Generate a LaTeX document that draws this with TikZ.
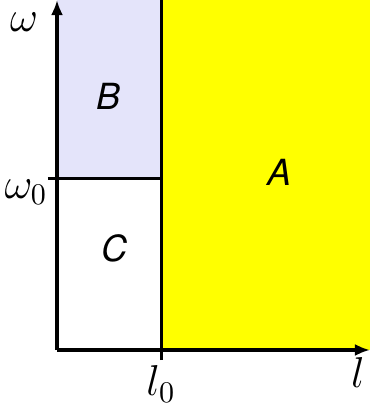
\documentclass[tikz,border=0pt]{standalone}
\usepackage{fontspec}
\usepackage{tikz}
\usetikzlibrary{arrows.meta,positioning}
\newfontfamily\regionfont{TeX Gyre Heros}
\definecolor{regBcol}{RGB}{228,228,250}
\definecolor{regAcol}{RGB}{255,255,0}

\begin{document}
\begin{tikzpicture}[
  x=0.3333pt,y=0.3333pt,
  axis/.style={line width=1.6pt,-{Latex[length=5pt,width=4pt]}},
  bound/.style={line width=1pt},
  reg/.style={font=\regionfont\itshape\large},
  lab/.style={font=\Large,inner sep=0pt}]

\useasboundingbox (-57,-57) rectangle (313,350);

% regions
\fill[regBcol] (0,172) rectangle (105,350);
\fill[regAcol] (105,0) rectangle (313,350);

% corner points
\coordinate (o) at (0,0);
\coordinate (ytop) at (0,350);
\coordinate (xend) at (313,0);
\coordinate (ltick) at (105,-10);
\coordinate (ltop) at (105,350);
\coordinate (wtick) at (-9,172);
\coordinate (wend) at (105,172);

% boundaries
\draw[bound] (ltick) -- (ltop);
\draw[bound] (wtick) -- (wend);

% axes
\draw[axis] (o) -- (ytop);
\draw[axis] (o) -- (xend);

% labels
\node[lab] (w) at (-33,328) {$\omega$};
\node[lab] (w0) at (-31,158) {$\omega_0$};
\node[lab] (l0) at (104,-34) {$l_0$};
\node[lab] (l) at (301,-22) {$l$};
\node[reg] (B) at (52,254) {B};
\node[reg] (A) at (223,178) {A};
\node[reg] (C) at (58,102) {C};
\end{tikzpicture}
\end{document}
